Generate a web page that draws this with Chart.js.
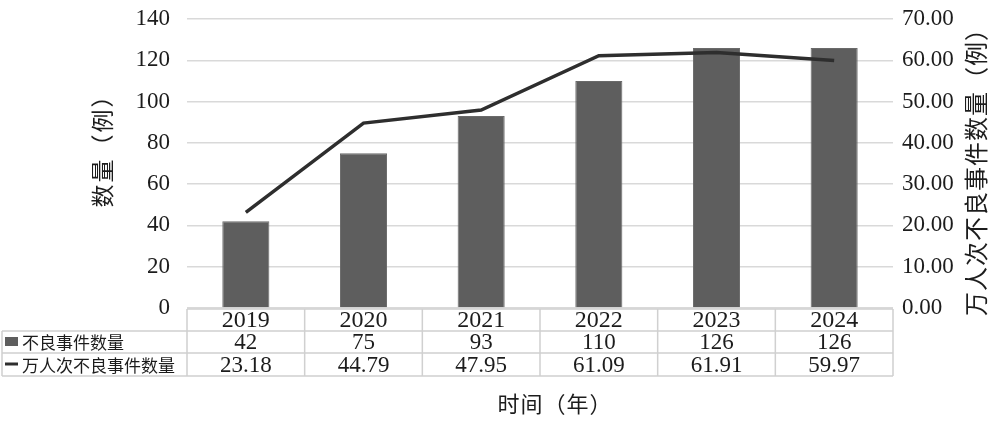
<!DOCTYPE html>
<html>
<head>
<meta charset="utf-8">
<script src="https://cdn.jsdelivr.net/npm/chart.js@4.4.1/dist/chart.umd.min.js"></script>
<style>
html,body{margin:0;padding:0;background:#fff;}
canvas{display:block;}
</style>
</head>
<body>
<canvas id="c" width="995" height="427"></canvas>
<script>
const years = ['2019','2020','2021','2022','2023','2024'];
const counts = [42, 75, 93, 110, 126, 126];
const rates = [23.18, 44.79, 47.95, 61.09, 61.91, 59.97];
const rateText = ['23.18','44.79','47.95','61.09','61.91','59.97'];
const barLabel = '不良事件数量';
const lineLabel = '万人次不良事件数量';
const leftTitle = '数量（例）';
const rightTitle = '万人次不良事件数量（例）';
const xTitle = '时间（年）';

const SERIF = '"Liberation Serif", "Noto Sans CJK SC", serif';
const CJK = '"Noto Sans CJK SC", sans-serif';
const TXT = '#1c1c1c';
const BAR = '#5e5e5e';
const LINE = '#2e2e2e';
const BORDER = '#d0d0d0';
const CLEAR = 'rgba(0,0,0,0)';

const tablePlugin = {
  id: 'tablePlugin',
  afterDraw(chart) {
    const ctx = chart.ctx;
    const a = chart.chartArea;
    const n = years.length;
    const colW = (a.right - a.left) / n;
    const y0 = a.bottom + 1, y1 = y0 + 22, y2 = y1 + 22, y3 = y2 + 23;
    const tl = 2;
    ctx.save();
    ctx.strokeStyle = BORDER;
    ctx.lineWidth = 1.5;
    ctx.beginPath();
    ctx.moveTo(a.left, y0); ctx.lineTo(a.right, y0);
    ctx.moveTo(tl, y1); ctx.lineTo(a.right, y1);
    ctx.moveTo(tl, y2); ctx.lineTo(a.right, y2);
    ctx.moveTo(tl, y3); ctx.lineTo(a.right, y3);
    ctx.moveTo(tl, y1); ctx.lineTo(tl, y3);
    for (let i = 0; i <= n; i++) {
      const x = a.left + i * colW;
      ctx.moveTo(x, y0); ctx.lineTo(x, y3);
    }
    ctx.stroke();

    ctx.fillStyle = TXT;
    ctx.textAlign = 'center';
    ctx.textBaseline = 'middle';
    const xs = chart.scales.x;
    for (let i = 0; i < n; i++) {
      const cx = xs.getPixelForValue(i);
      ctx.font = '24px ' + SERIF;
      ctx.fillText(years[i], cx, (y0 + y1) / 2 + 1);
      ctx.font = '23px ' + SERIF;
      ctx.fillText(String(counts[i]), cx, (y1 + y2) / 2 + 1);
      ctx.fillText(rateText[i], cx, (y2 + y3) / 2 + 1);
    }
    ctx.fillStyle = BAR;
    ctx.fillRect(5, 337, 13, 9);
    ctx.strokeStyle = LINE;
    ctx.lineWidth = 3;
    ctx.beginPath();
    ctx.moveTo(5, 364); ctx.lineTo(18, 364);
    ctx.stroke();
    ctx.fillStyle = TXT;
    ctx.textAlign = 'left';
    ctx.font = '17px ' + CJK;
    ctx.fillText(barLabel, 22, (y1 + y2) / 2 + 1);
    ctx.fillText(lineLabel, 22, (y2 + y3) / 2 + 1);

    ctx.textAlign = 'center';
    ctx.font = '22px ' + CJK;
    ctx.letterSpacing = '1px';
    ctx.fillText(xTitle, 555, 404);
    ctx.font = '23px ' + CJK;
    ctx.save();
    ctx.translate(102, 145);
    ctx.rotate(-Math.PI / 2);
    ctx.letterSpacing = '2px';
    ctx.fillText(leftTitle, 0, 0);
    ctx.restore();
    ctx.font = '24px ' + CJK;
    ctx.save();
    ctx.translate(976, 166);
    ctx.rotate(-Math.PI / 2);
    ctx.letterSpacing = '1px';
    ctx.fillText(rightTitle, 0, 0);
    ctx.restore();
    ctx.restore();
  }
};

new Chart(document.getElementById('c'), {
  data: {
    labels: years,
    datasets: [
      {
        type: 'line',
        label: lineLabel,
        data: rates,
        yAxisID: 'y1',
        borderColor: LINE,
        borderWidth: 3.5,
        pointRadius: 0,
        tension: 0,
        fill: false,
        order: 0
      },
      {
        type: 'bar',
        label: barLabel,
        data: counts,
        yAxisID: 'y',
        backgroundColor: BAR,
        borderColor: '#6a6a6a',
        borderWidth: 1,
        barPercentage: 0.4,
        categoryPercentage: 1.0,
        order: 1
      }
    ]
  },
  options: {
    responsive: false,
    animation: false,
    devicePixelRatio: 1,
    layout: { padding: { top: 19, bottom: 119, left: 0, right: 0 } },
    plugins: { legend: { display: false }, tooltip: { enabled: false } },
    scales: {
      x: { type: 'category', display: false, offset: true },
      y: {
        position: 'left',
        min: 0, max: 140,
        ticks: { stepSize: 20, padding: 0, color: TXT, font: { family: SERIF, size: 23 } },
        grid: { color: '#d9d9d9', lineWidth: 1.5, drawTicks: true, tickLength: 17, tickColor: CLEAR },
        border: { display: false },
        afterFit(s) { s.width = 187; }
      },
      y1: {
        position: 'right',
        min: 0, max: 70,
        ticks: { stepSize: 10, padding: 0, color: TXT, font: { family: SERIF, size: 23 },
          callback: v => Number(v).toFixed(2) },
        grid: { display: true, drawOnChartArea: false, drawTicks: true, tickLength: 9, tickColor: CLEAR, color: CLEAR },
        border: { display: false },
        afterFit(s) { s.width = 102; }
      }
    }
  },
  plugins: [tablePlugin]
});
</script>
</body>
</html>
